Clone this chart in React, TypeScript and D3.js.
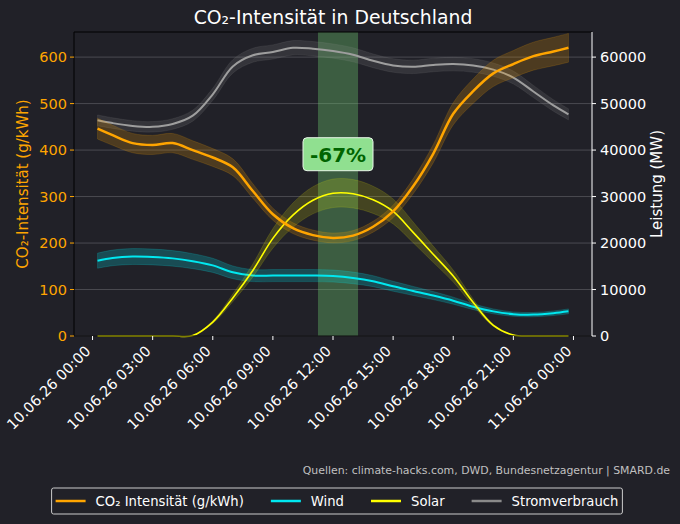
import React, { useEffect, useRef } from 'react';
import * as d3 from 'd3';

// hours after 10.06.26 00:00
const hours = [0.25, 1, 2, 3, 4, 5, 6, 7, 8, 9, 10, 11, 12, 13, 14, 15, 16, 17, 18, 19, 20, 21, 22, 23, 23.75];
const co2 = [446, 432, 415, 411, 415, 400, 384, 363, 312, 262, 232, 217, 211, 216, 235, 268, 322, 392, 478, 527, 565, 585, 602, 612, 620];
const wind = [16200, 16800, 17100, 17000, 16700, 16100, 15200, 13700, 13000, 13000, 13000, 13000, 12900, 12500, 11800, 10700, 9700, 8700, 7600, 6300, 5300, 4700, 4600, 4900, 5300];
const solar = [0, 0, 0, 0, 0, 100, 3000, 8200, 14100, 21000, 26000, 29200, 30700, 30600, 29300, 26800, 22300, 17600, 12900, 7200, 2300, 200, 0, 0, 0];
const load = [46400, 45800, 45200, 45000, 45600, 47400, 52000, 58000, 60400, 61100, 62000, 61800, 61300, 60500, 59200, 58200, 57900, 58300, 58500, 58200, 57300, 55600, 52600, 49600, 47700];

const leftTicks = [0, 100, 200, 300, 400, 500, 600];
const rightTicks = [0, 10000, 20000, 30000, 40000, 50000, 60000];
const lowWindow = [11.25, 13.25];
const lowLabel = '-67%';
const legendNames = ['CO₂ Intensität (g/kWh)', 'Wind', 'Solar', 'Stromverbrauch'];
const legendColors = ['#ffa500', '#00e8f0', '#ffff00', '#8a8a8a'];

const bg = '#212128';
const W = 680;
const H = 524;
const font = 'DejaVu Sans, sans-serif';
const tickSize = 14.5;

const base = new Date(2026, 5, 10, 0, 0).getTime();
const toDate = (h: number) => new Date(base + h * 3600e3);

const App: React.FC = () => {
  const ref = useRef<SVGSVGElement | null>(null);

  useEffect(() => {
    if (!ref.current) return;
    const svg = d3.select<SVGSVGElement, unknown>(ref.current);
    svg.selectAll('*').remove();

    const left = 74, right = 592, top = 32, bottom = 336;

    const span = hours[hours.length - 1] - hours[0];
    const x = d3
      .scaleTime()
      .domain([toDate(hours[0] - span * 0.05), toDate(hours[hours.length - 1] + span * 0.05)])
      .range([left, right]);
    const yL = d3.scaleLinear().domain([0, 654]).range([bottom, top]);
    const yR = d3.scaleLinear().domain([0, 65400]).range([bottom, top]);

    svg.append('rect').attr('width', W).attr('height', H).attr('fill', bg);

    // grid
    svg
      .append('g')
      .selectAll('line')
      .data(leftTicks)
      .enter()
      .append('line')
      .attr('x1', left)
      .attr('x2', right)
      .attr('y1', (d) => yL(d))
      .attr('y2', (d) => yL(d))
      .attr('stroke', '#55555c')
      .attr('stroke-width', 0.8);

    // low-carbon window
    svg
      .append('rect')
      .attr('x', x(toDate(lowWindow[0])))
      .attr('y', top)
      .attr('width', x(toDate(lowWindow[1])) - x(toDate(lowWindow[0])))
      .attr('height', bottom - top)
      .attr('fill', '#6fcf6f')
      .attr('opacity', 0.35);

    const drawSeries = (
      vals: number[],
      y: d3.ScaleLinear<number, number>,
      color: string,
      spread: number,
      bandOpacity: number,
      width: number
    ) => {
      const idx = d3.range(vals.length);
      const curve = d3.curveCatmullRom.alpha(0.5);
      const clampY = (v: number) => Math.min(y(0), y(v));
      const area = d3
        .area<number>()
        .x((i) => x(toDate(hours[i])))
        .y0((i) => clampY(vals[i] * (1 - spread)))
        .y1((i) => clampY(vals[i] * (1 + spread)))
        .curve(curve);
      svg
        .append('path')
        .attr('d', area(idx) as string)
        .attr('fill', color)
        .attr('fill-opacity', bandOpacity)
        .attr('stroke', color)
        .attr('stroke-opacity', bandOpacity * 0.8)
        .attr('stroke-width', 1);
      const line = d3
        .line<number>()
        .x((i) => x(toDate(hours[i])))
        .y((i) => clampY(vals[i]))
        .curve(curve);
      svg
        .append('path')
        .attr('d', line(idx) as string)
        .attr('fill', 'none')
        .attr('stroke', color)
        .attr('stroke-width', width);
    };

    drawSeries(load, yR, '#9e9e9e', 0.025, 0.15, 2);
    drawSeries(wind, yR, legendColors[1], 0.1, 0.22, 2);
    drawSeries(solar, yR, legendColors[2], 0.1, 0.16, 1.6);
    drawSeries(co2, yL, legendColors[0], 0.05, 0.2, 2.5);

    // spines
    svg.append('line').attr('x1', left).attr('x2', right).attr('y1', top).attr('y2', top).attr('stroke', '#000');
    svg.append('line').attr('x1', left).attr('x2', left).attr('y1', top).attr('y2', bottom).attr('stroke', '#000');
    svg.append('line').attr('x1', left).attr('x2', right).attr('y1', bottom).attr('y2', bottom).attr('stroke', '#000');
    svg.append('line').attr('x1', right).attr('x2', right).attr('y1', top).attr('y2', bottom).attr('stroke', '#ffffff');

    // left axis
    const gl = svg.append('g');
    leftTicks.forEach((t) => {
      gl.append('line').attr('x1', left - 4).attr('x2', left).attr('y1', yL(t)).attr('y2', yL(t)).attr('stroke', '#ffa500');
      gl.append('text')
        .attr('x', left - 7)
        .attr('y', yL(t))
        .attr('dy', '0.35em')
        .attr('text-anchor', 'end')
        .attr('font-family', font)
        .attr('font-size', tickSize)
        .attr('fill', '#ffa500')
        .text(t);
    });
    svg
      .append('text')
      .attr('transform', `translate(28,${(top + bottom) / 2}) rotate(-90)`)
      .attr('text-anchor', 'middle')
      .attr('font-family', font)
      .attr('font-size', 15)
      .attr('fill', '#ffa500')
      .text('CO₂-Intensität (g/kWh)');

    // right axis
    const gr = svg.append('g');
    rightTicks.forEach((t) => {
      gr.append('line').attr('x1', right).attr('x2', right + 4).attr('y1', yR(t)).attr('y2', yR(t)).attr('stroke', '#ffffff');
      gr.append('text')
        .attr('x', right + 8)
        .attr('y', yR(t))
        .attr('dy', '0.35em')
        .attr('font-family', font)
        .attr('font-size', tickSize)
        .attr('fill', '#ffffff')
        .text(t);
    });
    svg
      .append('text')
      .attr('transform', `translate(662,${(top + bottom) / 2}) rotate(-90)`)
      .attr('text-anchor', 'middle')
      .attr('font-family', font)
      .attr('font-size', 15)
      .attr('fill', '#ffffff')
      .text('Leistung (MW)');

    // x axis
    const fmt = d3.timeFormat('%d.%m.%y %H:%M');
    const xt = d3.timeHour.every(3)!.range(toDate(0), toDate(24.01));
    const gx = svg.append('g');
    xt.forEach((d) => {
      const px = x(d);
      gx.append('line').attr('x1', px).attr('x2', px).attr('y1', bottom).attr('y2', bottom + 4).attr('stroke', '#ffffff');
      gx.append('text')
        .attr('transform', `translate(${px - 1},${bottom + 16}) rotate(-45)`)
        .attr('text-anchor', 'end')
        .attr('font-family', font)
        .attr('font-size', tickSize)
        .attr('fill', '#ffffff')
        .text(fmt(d));
    });

    // annotation
    const cx = x(toDate((lowWindow[0] + lowWindow[1]) / 2));
    const cy = yL(390);
    const ann = svg.append('g');
    ann
      .append('rect')
      .attr('x', cx - 35)
      .attr('y', cy - 17)
      .attr('width', 70)
      .attr('height', 33)
      .attr('rx', 4)
      .attr('fill', '#90e090')
      .attr('stroke', '#e8f5e8')
      .attr('stroke-width', 1);
    ann
      .append('text')
      .attr('x', cx)
      .attr('y', cy)
      .attr('dy', '0.36em')
      .attr('text-anchor', 'middle')
      .attr('font-family', font)
      .attr('font-size', 20)
      .attr('font-weight', 'bold')
      .attr('fill', '#006400')
      .text(lowLabel);

    // title
    svg
      .append('text')
      .attr('x', 333)
      .attr('y', 24)
      .attr('text-anchor', 'middle')
      .attr('font-family', font)
      .attr('font-size', 18.8)
      .attr('fill', '#ffffff')
      .text('CO₂-Intensität in Deutschland');

    // sources
    svg
      .append('text')
      .attr('x', 670)
      .attr('y', 474)
      .attr('text-anchor', 'end')
      .attr('font-family', font)
      .attr('font-size', 10.9)
      .attr('fill', '#c0c0c0')
      .text('Quellen: climate-hacks.com, DWD, Bundesnetzagentur | SMARD.de');

    // legend
    const lg = svg.append('g');
    const frame = lg.append('rect');
    const ly = 501;
    let lx = 0;
    legendNames.forEach((name, i) => {
      lg.append('line')
        .attr('x1', lx)
        .attr('x2', lx + 30)
        .attr('y1', ly)
        .attr('y2', ly)
        .attr('stroke', legendColors[i])
        .attr('stroke-width', 2.5);
      const t = lg
        .append('text')
        .attr('x', lx + 40)
        .attr('y', ly)
        .attr('dy', '0.35em')
        .attr('font-family', font)
        .attr('font-size', 13.2)
        .attr('fill', '#ffffff')
        .text(name);
      const w = (t.node() as SVGTextElement).getComputedTextLength();
      lx += 40 + w + (i < legendNames.length - 1 ? 27 : 0);
    });
    const lw = lx + 8;
    frame
      .attr('x', -4)
      .attr('y', 488)
      .attr('width', lw)
      .attr('height', 26)
      .attr('rx', 2)
      .attr('fill', bg)
      .attr('stroke', '#cccccc')
      .attr('stroke-width', 1);
    lg.attr('transform', `translate(${337 - lw / 2 + 4},0)`);
  }, []);

  return (
    <div style={{ position: 'absolute', left: 0, top: 0 }}>
      <svg ref={ref} width={W} height={H} />
    </div>
  );
};

export default App;
